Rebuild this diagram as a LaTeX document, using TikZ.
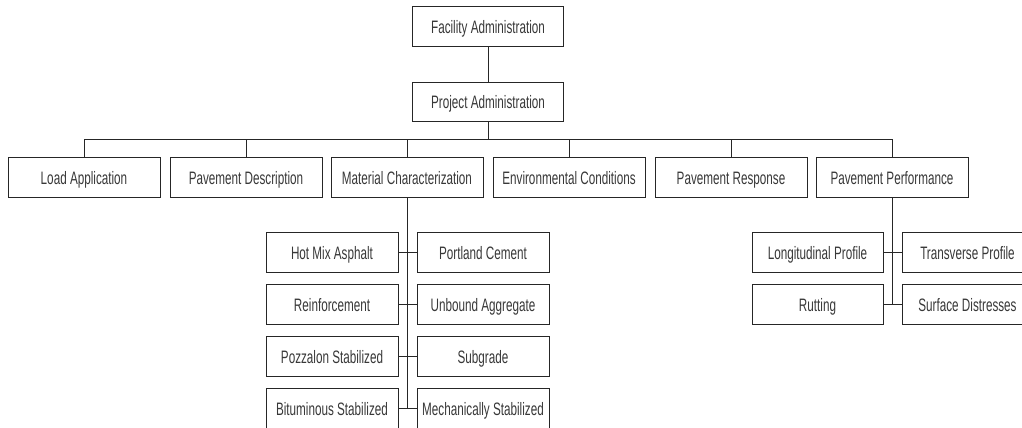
\documentclass[tikz,border=0pt]{standalone}
\usepackage{fontspec}
\setmainfont{Liberation Sans}[FakeStretch=0.65]
\begin{document}
\begin{tikzpicture}[x=1pt,y=-1pt,
  box/.style={draw=black!85,line width=0.9pt,minimum height=40pt,inner sep=0pt,text height=14.5pt,text depth=0pt,font=\fontsize{18}{20}\selectfont,text=black!78},
  topbox/.style={box,minimum width=152pt},
  subbox/.style={box,minimum width=132pt},
  link/.style={draw=black!85,line width=0.9pt}]
\useasboundingbox (0,0) rectangle (1022,428);
\clip (0,0) rectangle (1022,428);
\node[box,minimum width=151pt] (fac) at (488,26) {Facility Administration};
\node[box,minimum width=151pt,minimum height=39pt] (proj) at (488,101.5) {Project Administration};
\node[topbox] (load) at (84,177) {Load Application};
\node[topbox] (desc) at (246,177) {Pavement Description};
\node[topbox] (mat) at (407,177) {Material Characterization};
\node[topbox] (env) at (569,177) {Environmental Conditions};
\node[topbox] (resp) at (731,177) {Pavement Response};
\node[topbox] (perf) at (892,177) {Pavement Performance};
% material sub boxes
\node[subbox] (hma) at (332,252) {Hot Mix Asphalt};
\node[subbox] (pcc) at (483,252) {Portland Cement};
\node[subbox] (reinf) at (332,304) {Reinforcement};
\node[subbox] (unb) at (483,304) {Unbound Aggregate};
\node[subbox] (pozz) at (332,356) {Pozzalon Stabilized};
\node[subbox] (subg) at (483,356) {Subgrade};
\node[subbox] (bitu) at (332,408) {Bituminous Stabilized};
\node[subbox] (mech) at (483,408) {Mechanically Stabilized};
% performance sub boxes
\node[subbox,minimum width=131pt] (long) at (817.5,252) {Longitudinal Profile};
\node[subbox,minimum width=131pt] (trans) at (967.5,252) {Transverse Profile};
\node[subbox,minimum width=131pt] (rut) at (817.5,304) {Rutting};
\node[subbox,minimum width=131pt] (surf) at (967.5,304) {Surface Distresses};
% connectors
\coordinate (bus) at (488,139);
\coordinate (matend) at (407,408);
\coordinate (perfend) at (892,304);
\draw[link] (fac) -- (proj);
\draw[link] (proj.south) -- (bus);
\foreach \n in {load,desc,mat,env,resp,perf}
  \draw[link] (bus) -| (\n.north);
\draw[link] (mat.south) -- (matend);
\draw[link] (perf.south) -- (perfend);
\draw[link] (hma.east) -- (pcc.west);
\draw[link] (reinf.east) -- (unb.west);
\draw[link] (pozz.east) -- (subg.west);
\draw[link] (bitu.east) -- (mech.west);
\draw[link] (long.east) -- (trans.west);
\draw[link] (rut.east) -- (surf.west);
\end{tikzpicture}
\end{document}
